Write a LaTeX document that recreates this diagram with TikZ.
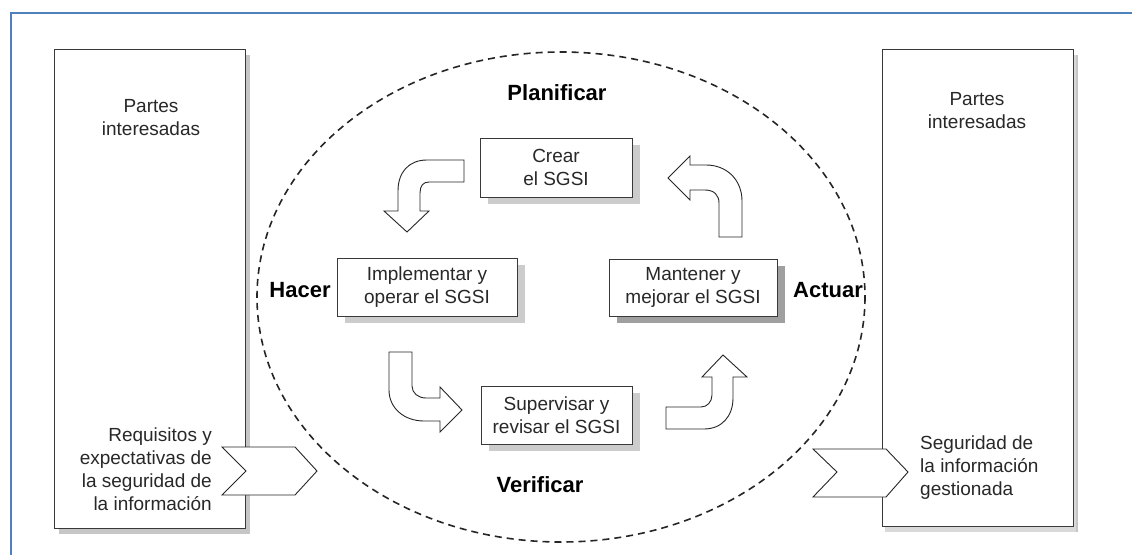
\documentclass[tikz,border=0pt]{standalone}
\usepackage{fontspec}
\setmainfont{Liberation Sans}
\usetikzlibrary{shadows}
\definecolor{frameblue}{RGB}{79,129,189}
\definecolor{txt}{RGB}{40,40,40}
\tikzset{
  x=1pt, y=-1pt,
  reg/.style={font=\fontsize{19}{23}\selectfont, text=txt},
  lbl/.style={font=\fontsize{22}{26}\selectfont\bfseries, text=black},
  stepbox/.style={reg, draw=gray!45!black, line width=0.9pt, fill=white, align=center, inner sep=0pt, outer sep=0pt},
  lightshadow/.style={drop shadow={shadow xshift=8pt, shadow yshift=-7pt, opacity=1, fill=gray!40}},
  darkshadow/.style={drop shadow={shadow xshift=8pt, shadow yshift=-7pt, opacity=1, fill=gray!75}},
  sideshadow/.style={drop shadow={shadow xshift=5pt, shadow yshift=-6pt, opacity=1, fill=gray!45}},
  turnarrow/.style={draw=gray!30!black, line width=0.9pt, fill=white, line join=miter},
  chevron/.style={draw=gray!30!black, line width=0.9pt, fill=white},
}
\begin{document}
\begin{tikzpicture}
\useasboundingbox (0,0) rectangle (1132,554);
\clip (0,0) rectangle (1132,554);
\fill[white] (0,0) rectangle (1132,554);
% frame
\draw[frameblue, line width=2.2pt] (11,570) -- (11,13) -- (1150,13);

% side boxes
\node[stepbox, sideshadow, minimum width=191pt, minimum height=479pt] (lbox) at (149.5,288.5) {};
\node[stepbox, sideshadow, minimum width=191pt, minimum height=477pt, drop shadow={shadow xshift=3pt, shadow yshift=-6pt, opacity=1, fill=gray!30}] (rbox) at (977.5,287.5) {};

\node[reg, align=center] (lpartes) at (151,117.5) {Partes\\interesadas};
\node[reg, align=center] (rpartes) at (977,111) {Partes\\interesadas};
\node[reg, align=right, anchor=east, inner sep=0pt] (req) at (212,469) {Requisitos y\\expectativas de\\la seguridad de\\la información};
\node[reg, align=left, anchor=west, inner sep=0pt] (seg) at (920,468) {Seguridad de\\la información\\gestionada};

% dashed cycle
\draw[black!85, line width=1.6pt, dash pattern=on 7pt off 5pt] (561,297) ellipse [x radius=304, y radius=245];

% chevrons
\draw[chevron] (222,447) -- (295,447) -- (317,471) -- (295,495) -- (222,495) -- (246,471) -- cycle;
\draw[chevron] (813,449) -- (886,449) -- (908,472) -- (886,497) -- (813,497) -- (837,472) -- cycle;

% process boxes
\node[stepbox, lightshadow, minimum width=152pt, minimum height=59pt] (crear) at (556,167.5) {Crear\\el SGSI};
\node[stepbox, lightshadow, minimum width=180pt, minimum height=58pt] (impl) at (427,287) {Implementar y\\operar el SGSI};
\node[stepbox, darkshadow, minimum width=168pt, minimum height=57pt] (mant) at (693,287.5) {Mantener y\\mejorar el SGSI};
\node[stepbox, lightshadow, minimum width=151pt, minimum height=58pt] (sup) at (556.5,415) {Supervisar y\\revisar el SGSI};

% phase labels
\node[lbl] (plan) at (557,93) {Planificar};
\node[lbl] (hacer) at (300,290) {Hacer};
\node[lbl] (actuar) at (828,290) {Actuar};
\node[lbl] (verif) at (540,485) {Verificar};

% curved arrows
\draw[turnarrow] (464,160) -- (427,160) .. controls (409,160) and (398,172) .. (398,191) -- (398,211) -- (384,211) -- (407,232) -- (429,211) -- (420,211) -- (420,193) .. controls (420,186) and (423,182) .. (429,182) -- (464,182) -- cycle;

\draw[turnarrow] (719,237) -- (742,237) -- (742,201) .. controls (742,180) and (727,165) .. (706,165) -- (690,165) -- (690,156) -- (668,178) -- (690,200) -- (690,190) -- (705,190) .. controls (714,190) and (719,195) .. (719,203) -- cycle;

\draw[turnarrow] (389,352) -- (412,352) -- (412,386) .. controls (412,393) and (418,398) .. (426,398) -- (440,398) -- (440,387) -- (462,410) -- (440,432) -- (440,421) -- (424,421) .. controls (404,421) and (389,408) .. (389,390) -- cycle;

\draw[turnarrow] (666,407) -- (701,407) .. controls (707,407) and (712,402) .. (712,395) -- (712,377) -- (702,377) -- (723,355) -- (747,377) -- (733,377) -- (733,398) .. controls (733,416) and (722,429) .. (704,429) -- (666,429) -- cycle;
\end{tikzpicture}
\end{document}
